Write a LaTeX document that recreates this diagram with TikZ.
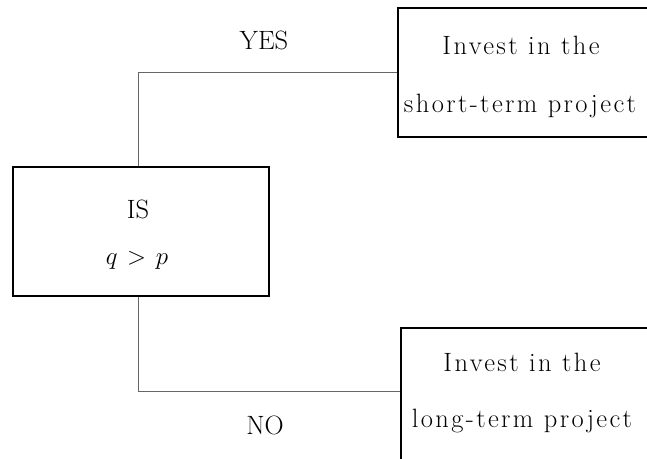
\documentclass[tikz,border=0pt]{standalone}
\usepackage{fontspec}
\newfontfamily\spacedfont[LetterSpace=9]{Latin Modern Roman}
\usetikzlibrary{backgrounds}
\begin{document}
\begin{tikzpicture}[x=1pt,y=-1pt,
  boxstyle/.style={draw=black,line width=2pt,anchor=north west,inner sep=0pt},
  conn/.style={draw=black!60,line width=1pt},
  lbl/.style={font=\fontsize{26.5}{30}\selectfont},
  spaced/.style={font=\spacedfont\fontsize{26.5}{30}\selectfont}]
\clip (0,0) rectangle (647,458);
\useasboundingbox (0,0) rectangle (647,458);
\node[boxstyle,minimum width=256pt,minimum height=129pt] (is) at (12,166) {};
\node[boxstyle,minimum width=262pt,minimum height=129pt] (short) at (397,7) {};
\node[boxstyle,minimum width=262pt,minimum height=150pt] (long) at (400,327) {};
\coordinate (longin) at (400,391);
\node[lbl] (istxt) at (138,209) {IS};
\node[lbl] (cond) at (137,260) {$q\mkern2mu>\mkern2mu p$};
\node[spaced] (s1) at (521,45) {Invest in the};
\node[spaced] (s2) at (520,106) {short-term project};
\node[spaced] (l1) at (522,362) {Invest in the};
\node[spaced] (l2) at (522,421) {long-term project};
\node[lbl] (yes) at (264,40) {YES};
\node[lbl] (no) at (265,425) {NO};
\begin{scope}[on background layer]
\draw[conn] ([xshift=-3pt]is.north) |- (short.west);
\draw[conn] ([xshift=-3pt]is.south) |- (longin);
\end{scope}
\end{tikzpicture}
\end{document}
